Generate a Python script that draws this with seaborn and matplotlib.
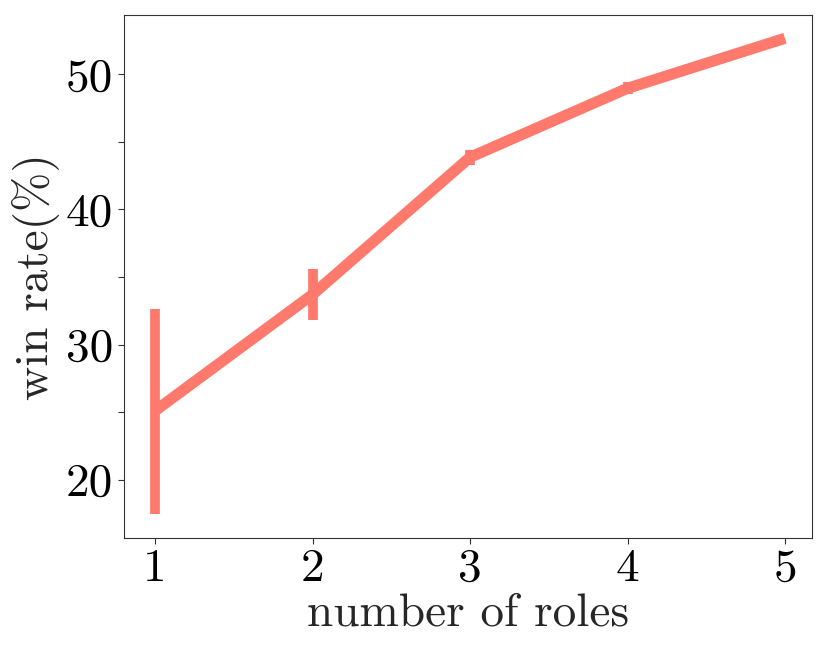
import matplotlib
matplotlib.use("Agg")
import matplotlib.pyplot as plt
import seaborn as sns
import pandas as pd

num_roles = [1, 2, 3, 4, 5]
win_rate = [25.1, 33.7, 43.85, 48.95, 52.65]
err_low = [17.5, 31.8, 43.3, 48.5, 52.65]
err_high = [32.6, 35.6, 44.4, 49.4, 52.65]

sns.set_style("ticks")
plt.rcParams['font.family'] = ['serif']
plt.rcParams['font.serif'] = ['cmr10', 'DejaVu Serif']
plt.rcParams['mathtext.fontset'] = 'cm'
plt.rcParams['axes.formatter.use_mathtext'] = True
plt.rcParams['axes.unicode_minus'] = False

color = "#ff796c"
df = pd.DataFrame({"x": num_roles, "y": win_rate})

fig = plt.figure(figsize=(8.3, 6.64), dpi=100)
ax = fig.add_axes([0.149, 0.19, 0.829, 0.788])
sns.lineplot(data=df, x="x", y="y", ax=ax, color=color, linewidth=8, errorbar=None,
             solid_capstyle='butt')
ylo = [w - l for w, l in zip(win_rate, err_low)]
yhi = [h - w for w, h in zip(win_rate, err_high)]
ax.errorbar(num_roles, win_rate, yerr=[ylo, yhi], fmt='none', ecolor=color,
            elinewidth=7, capsize=0)

ax.set_xlim(0.8, 5.17)
ax.set_ylim(15.7, 54.4)
ax.set_xticks(num_roles)
ax.set_xticklabels([str(v) for v in num_roles])
yt = [20, 25, 30, 35, 40, 45, 50]
ax.set_yticks(yt)
ax.set_yticklabels([str(v) if v % 10 == 0 else '' for v in yt])
ax.tick_params(labelsize=34, length=4, width=0.8, colors='#333333', labelcolor='black')
for s in ax.spines.values():
    s.set_linewidth(0.8)
    s.set_color('#333333')
ax.set_xlabel(r'number of roles', fontsize=34, labelpad=2)
ax.set_ylabel(r'win rate(%)', fontsize=34, labelpad=4)
fig.savefig("out.png", dpi=100)
